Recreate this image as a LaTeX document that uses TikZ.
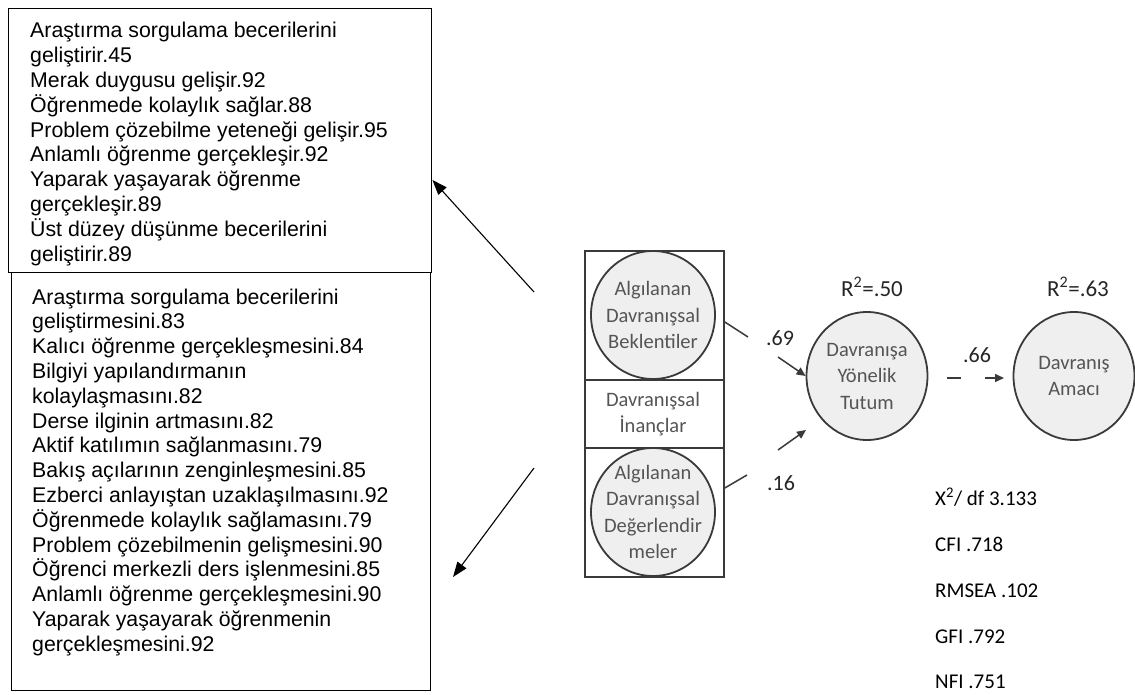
\documentclass[tikz,border=0pt]{standalone}
\usepackage{fontspec}
\setmainfont{Liberation Sans}
\newfontfamily\calib{Carlito}
\usetikzlibrary{arrows.meta,shapes.geometric}

\definecolor{inkgray}{HTML}{3A3A3A}
\definecolor{bubblefill}{HTML}{EFEFEF}
\definecolor{bubbletext}{HTML}{555555}

\tikzset{
  listbox/.style={draw=black, line width=1.4pt, fill=white, inner sep=0pt, anchor=north west},
  listtext/.style={anchor=north west, inner sep=0pt, align=left,
                   font=\fontsize{21.3}{24.8}\selectfont},
  pointer/.style={draw=black, line width=1.1pt, -{Triangle[length=15pt,width=11pt]}},
  frame/.style={draw=inkgray, line width=1.8pt},
  bubble/.style={ellipse, draw=inkgray, line width=1.8pt, fill=bubblefill, inner sep=0pt},
  bubtext/.style={align=center, text=bubbletext, inner sep=0pt,
                  font=\calib\fontsize{20.5}{26.5}\selectfont},
  semline/.style={draw=inkgray, line width=1.5pt},
  semarrow/.style={semline, -{Triangle[length=9pt,width=8pt]}},
  coef/.style={inner sep=0pt, text=black!85, font=\calib\fontsize{22}{26}\selectfont},
  rsq/.style={inner sep=0pt, text=black!85, font=\calib\fontsize{23}{27}\selectfont},
  fitstat/.style={anchor=base west, inner sep=0pt, font=\calib\fontsize{21}{24}\selectfont}
}

\begin{document}
\begin{tikzpicture}[x=1pt,y=-1pt]
\useasboundingbox[fill=white] (0,0) rectangle (1135,695);

% ---- benefit lists on the left ----
\node[listbox, minimum width=423pt, minimum height=264pt] (benefits) at (8,8) {};
\node[listtext] (benefitstext) at (30,20.4) {\strut Araştırma sorgulama becerilerini\\
geliştirir.45\\
Merak duygusu gelişir.92\\
Öğrenmede kolaylık sağlar.88\\
Problem çözebilme yeteneği gelişir.95\\
Anlamlı öğrenme gerçekleşir.92\\
Yaparak yaşayarak öğrenme\\
gerçekleşir.89\\
Üst düzey düşünme becerilerini\\
geliştirir.89};

\node[listbox, minimum width=419pt, minimum height=418pt] (expect) at (11,272) {};
\node[listtext] (expecttext) at (32,286.6) {\strut Araştırma sorgulama becerilerini\\
geliştirmesini.83\\
Kalıcı öğrenme gerçekleşmesini.84\\
Bilgiyi yapılandırmanın\\
kolaylaşmasını.82\\
Derse ilginin artmasını.82\\
Aktif katılımın sağlanmasını.79\\
Bakış açılarının zenginleşmesini.85\\
Ezberci anlayıştan uzaklaşılmasını.92\\
Öğrenmede kolaylık sağlamasını.79\\
Problem çözebilmenin gelişmesini.90\\
Öğrenci merkezli ders işlenmesini.85\\
Anlamlı öğrenme gerçekleşmesini.90\\
Yaparak yaşayarak öğrenmenin\\
gerçekleşmesini.92};

% ---- pointers from the model to the lists ----
\coordinate (upstart) at (534,292);
\coordinate (downstart) at (534,468);
\coordinate (downtip) at (453,577);
\draw[pointer] (upstart) -- (benefits.east |- 0,180);
\draw[pointer] (downstart) -- (downtip);

% ---- belief block ----
\node[frame, anchor=north west, inner sep=0pt, minimum width=139pt, minimum height=326pt] (beliefs) at (584,250) {};
\draw[frame] (beliefs.west |- 0,380) -- (beliefs.east |- 0,380);
\draw[frame] (beliefs.west |- 0,448) -- (beliefs.east |- 0,448);

\node[bubble, minimum width=124pt, minimum height=128pt] (expectations) at (653,315) {};
\node[bubtext] at (expectations) {Algılanan\\Davranışsal\\Beklentiler};
\node[bubtext] (beliefstext) at (653,414) {Davranışsal\\İnançlar};
\node[bubble, minimum width=124pt, minimum height=128pt] (evaluations) at (653,512) {};
\node[bubtext] at (evaluations) {Algılanan\\Davranışsal\\Değerlendir\\meler};

% ---- attitude and intention ----
\node[bubble, minimum width=121pt, minimum height=128pt] (attitude) at (867,376) {};
\node[bubtext] at (attitude) {Davranışa\\Yönelik\\Tutum};
\node[bubble, minimum width=121pt, minimum height=128pt] (intention) at (1074,376) {};
\node[bubtext] at (intention) {Davranış\\Amacı};

\node[rsq] (r2att) at (872,287) {R\textsuperscript{2}=.50};
\node[rsq] (r2int) at (1078,287) {R\textsuperscript{2}=.63};

% ---- path coefficients ----
\node[coef] (p69) at (780,338) {.69};
\node[coef] (p16) at (781,483) {.16};
\node[coef] (p66) at (977,355) {.66};

\coordinate (a2) at (748,337);
\coordinate (a3) at (778,357);
\draw[semline] (beliefs.east |- 0,322) -- (a2);
\draw[semarrow] (a3) -- (attitude.west);

\coordinate (b2) at (747,475);
\coordinate (b3) at (778,450);
\coordinate (b4) at (806,430);
\draw[semline] (beliefs.east |- 0,488) -- (b2);
\draw[semarrow] (b3) -- (b4);

\coordinate (c1) at (947,378);
\coordinate (c2) at (961,378);
\coordinate (c3) at (985,378);
\coordinate (c4) at (1004,378);
\draw[semline] (c1) -- (c2);
\draw[semarrow] (c3) -- (c4);

% ---- fit indices ----
\node[fitstat] (chi) at (935,505) {X\textsuperscript{2}/ df 3.133};
\node[fitstat] (cfi) at (935,551) {CFI .718};
\node[fitstat] (rmsea) at (935,597) {RMSEA .102};
\node[fitstat] (gfi) at (935,643) {GFI .792};
\node[fitstat] (nfi) at (935,688) {NFI .751};
\end{tikzpicture}
\end{document}
